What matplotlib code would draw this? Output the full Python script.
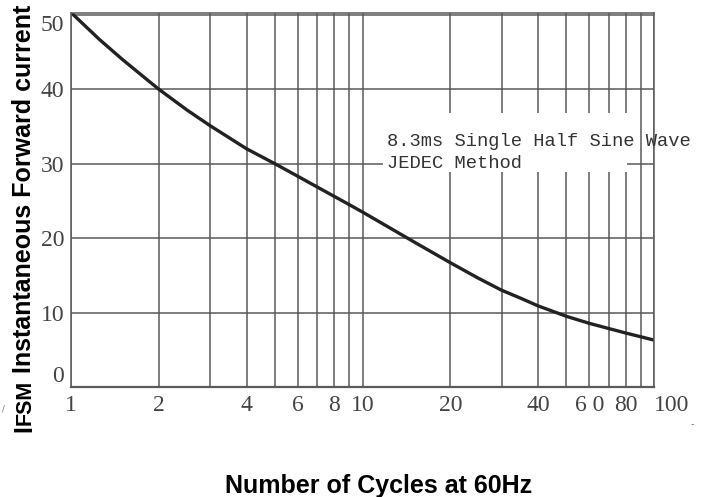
import numpy as np
import matplotlib
matplotlib.use("Agg")
import matplotlib.pyplot as plt
from matplotlib.patches import Rectangle
from matplotlib.transforms import offset_copy

# curve (cycles, peak surge current in A)
cycles = [1, 1.25, 1.5, 1.75, 2, 2.5, 3, 4, 5, 6, 7, 8, 9, 10, 15, 20, 25, 30,
          35, 40, 50, 60, 70, 80, 90, 100]
ifsm = [50.3, 46.7, 44.0, 41.85, 40.0, 37.2, 35.1, 32.0, 30.0, 28.3, 26.85, 25.6,
        24.5, 23.5, 19.5, 16.7, 14.6, 13.0, 11.9, 10.9, 9.5, 8.55, 7.85, 7.25,
        6.75, 6.3]

x_ticks = [1, 2, 4, 6, 8, 10, 20, 40, 60, 80, 100]
x_labels = ["1", "2", "4", "6", "8", "10", "20", "40", "6 0", "80", "100"]
y_ticks = [0, 10, 20, 30, 40, 50]
grid_x = [1, 2, 3, 4, 5, 6, 7, 8, 9, 10, 20, 30, 40, 50, 60, 70, 80, 90, 100]

fig = plt.figure(figsize=(7.04, 4.97), dpi=100)
ax = fig.add_axes([71 / 704, 110 / 497, 583 / 704, 374.5 / 497])

ax.set_xscale("log")
ax.set_xlim(1, 100)
ax.set_ylim(0, 50.3)

gcol = "#5a5a5a"
for gx in grid_x:
    ax.axvline(gx, color=gcol, lw=1.1, zorder=0.5)
for gy in y_ticks[1:]:
    ax.axhline(gy, color=gcol, lw=1.1, zorder=0.5)

for s in ax.spines.values():
    s.set_color(gcol)
    s.set_linewidth(1.1)
ax.spines["bottom"].set_linewidth(1.6)

# white patch behind the note
ax.add_patch(Rectangle((0.535, 0.574), 0.419, 0.158, transform=ax.transAxes,
                       facecolor="white", edgecolor="none", zorder=1))

ax.plot(cycles, ifsm, color="#222222", lw=2.4, zorder=2, solid_joinstyle="round")

ax.xaxis.set_minor_locator(matplotlib.ticker.NullLocator())
ax.set_xticks(x_ticks)
ax.set_xticklabels(x_labels, fontfamily="Liberation Serif", fontsize=17, color="#444444")
ax.set_yticks(y_ticks)
ax.set_yticklabels([str(v) for v in y_ticks], fontfamily="Liberation Serif",
                   fontsize=17, color="#444444")
ax.tick_params(axis="x", length=0, pad=6)
ax.tick_params(axis="y", length=0, pad=5)
xl = ax.get_xticklabels()
xl[-1].set_horizontalalignment("left")
yl = ax.get_yticklabels()
yl[0].set_verticalalignment("bottom")
yl[-1].set_verticalalignment("top")

note = dict(fontfamily="Liberation Mono", fontsize=13.5, color="#333333", zorder=3)
ax.text(0.542, 0.6435, "8.3ms Single Half Sine Wave", transform=ax.transAxes,
        va="baseline", ha="left", **note)
ax.text(0.542, 0.585, "JEDEC Method", transform=ax.transAxes,
        va="baseline", ha="left", **note)

fig.text(379 / 704, 4 / 497, "Number of Cycles at 60Hz", ha="center", va="baseline",
         fontfamily="Liberation Sans", fontweight="bold", fontsize=18)

# y label: big I, slightly smaller FSM, then the rest
lab = dict(rotation=90, ha="center", va="bottom", fontfamily="Liberation Sans",
           fontweight="bold")
renderer = fig.canvas.get_renderer()
t1 = fig.text(24 / 704, 65 / 497, "I", fontsize=18, **lab)
h1 = t1.get_window_extent(renderer).height
tr2 = offset_copy(t1.get_transform(), fig=fig, x=1, y=h1, units="dots")
t2 = fig.text(24 / 704, 65 / 497, "FSM", fontsize=15.5, transform=tr2, **lab)
h2 = t2.get_window_extent(renderer).height
tr3 = offset_copy(t1.get_transform(), fig=fig, x=0, y=h1 + h2, units="dots")
fig.text(24 / 704, 65 / 497, " Instantaneous Forward current (A)", fontsize=18,
         transform=tr3, **lab)

fig.text(692 / 704, 70 / 497, "-", fontsize=7, color="#777777", ha="center")
fig.text(3 / 704, 85 / 497, "/", fontsize=6, color="#777777", ha="center")

fig.savefig("out.png", dpi=100)
